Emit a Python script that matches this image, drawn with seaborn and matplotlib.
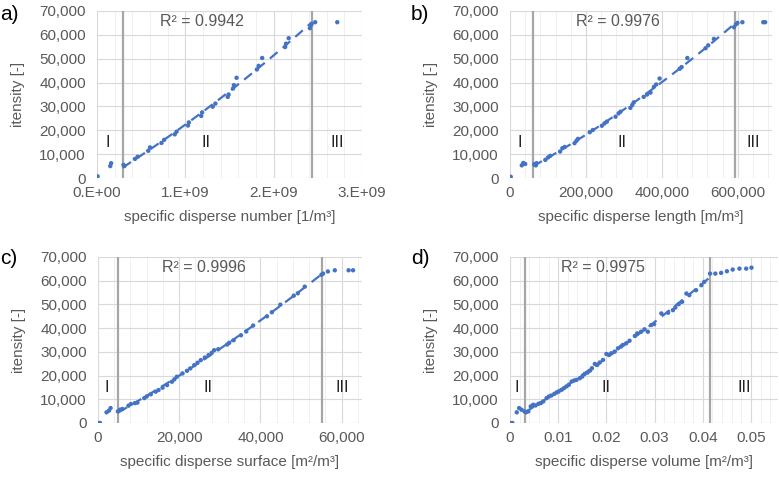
import numpy as np
import pandas as pd
import matplotlib
matplotlib.use("Agg")
import matplotlib.pyplot as plt
from matplotlib.ticker import AutoMinorLocator
import seaborn as sns

sns.set_theme(style="white")
plt.rcParams['font.family'] = ['Liberation Sans', 'DejaVu Sans']

# ---------------- data ----------------
# a) specific disperse number [1e9 1/m3] vs intensity [1e3]
a_x = [0.007, 0.15, 0.16, 0.30, 0.31, 0.43, 0.46, 0.58, 0.60, 0.73, 0.76, 0.88, 0.90,
       1.03, 1.04, 1.18, 1.19, 1.31, 1.34, 1.48, 1.49, 1.54, 1.55, 1.58, 1.81, 1.83,
       1.87, 2.13, 2.14, 2.17, 2.41, 2.42, 2.43, 2.47, 2.72]
a_y = [0.7, 5.0, 6.2, 5.5, 5.0, 8.0, 8.9, 11.4, 12.8, 14.7, 16.0, 18.3, 19.4,
       22.0, 23.3, 26.0, 27.5, 29.9, 31.2, 34.0, 35.0, 37.5, 38.9, 42.0, 45.5, 47.0,
       50.3, 54.9, 56.3, 58.6, 62.8, 64.0, 64.6, 65.3, 65.3]

# b) specific disperse length [1e3 m/m3]
b_x = [2, 31, 35, 40, 64, 68, 70, 93, 100, 106, 132, 138, 144, 170, 175, 179, 210, 218,
       242, 249, 255, 278, 286, 291, 317, 322, 326, 352, 361, 370, 379, 385, 394,
       447, 452, 467, 515, 522, 537, 590, 595, 599, 612, 667, 672]
b_y = [0.5, 5.3, 6.3, 5.9, 5.8, 5.3, 6.2, 7.6, 8.6, 9.3, 11.1, 12.5, 13.0, 14.6, 15.6, 16.4,
       19.2, 20.1, 21.9, 22.9, 23.6, 25.7, 27.1, 27.8, 29.4, 30.6, 31.7, 34.0, 35.0, 35.8,
       38.2, 39.2, 41.7, 45.8, 46.5, 50.3, 54.4, 55.6, 58.3, 63.2, 64.4, 65.0, 65.3, 65.3, 65.3]

# c) specific disperse surface [1e3 m2/m3]
c_x = [0.0, 0.5, 2.1, 2.7, 3.1, 4.9, 5.4, 6.0, 7.5, 8.1, 9.1, 9.7, 11.4, 12.0, 13.0,
       14.2, 14.9, 15.9, 17.0, 18.2, 18.8, 19.4, 20.8, 21.9, 22.7, 23.7, 24.5, 25.3,
       26.3, 27.2, 28.0, 28.6, 29.6, 31.8, 32.3, 33.4, 35.2, 36.5, 38.2, 41.6, 42.8,
       44.9, 48.2, 49.2, 50.9, 55.0, 55.4, 56.6, 58.3, 61.7, 62.8]
c_y = [0.0, 0.0, 4.5, 5.2, 6.3, 4.9, 5.6, 5.9, 7.3, 8.0, 8.4, 8.6, 10.5, 11.2, 12.1,
       13.2, 13.9, 14.9, 16.0, 17.4, 18.4, 19.5, 20.9, 22.0, 23.0, 24.4, 25.4, 26.5,
       27.6, 28.6, 29.6, 30.7, 31.1, 33.1, 33.8, 34.9, 37.0, 38.6, 41.1, 45.0, 46.7,
       49.9, 53.7, 54.7, 57.5, 62.5, 63.0, 63.9, 64.4, 64.4, 64.4]

# d) specific disperse volume [m2/m3]
d_x = [0.0, 0.0005, 0.0014, 0.0019, 0.0024, 0.0030, 0.0033, 0.0038, 0.0043, 0.0048,
       0.0053, 0.0059, 0.0064, 0.0069, 0.0076, 0.0081, 0.0086, 0.0092, 0.0097, 0.0101,
       0.0107, 0.0112, 0.0117, 0.0122, 0.0128, 0.0133, 0.0138, 0.0145, 0.0150, 0.0155,
       0.0161, 0.0166, 0.0170, 0.0176, 0.0181, 0.0186, 0.0193, 0.0200, 0.0205, 0.0210,
       0.0217, 0.0224, 0.0230, 0.0234, 0.0241, 0.0248, 0.0259, 0.0264, 0.0272, 0.0279,
       0.0286, 0.0293, 0.0299, 0.0314, 0.0328, 0.0338, 0.0343, 0.0350, 0.0357, 0.0366,
       0.0372, 0.0386, 0.0397, 0.0403, 0.0415, 0.0426, 0.0438, 0.0450, 0.0462, 0.0476,
       0.0490, 0.0501]
d_y = [0.0, 0.0, 4.5, 6.3, 5.6, 4.9, 4.5, 4.9, 7.0, 7.7, 7.4, 8.1, 8.4, 9.1, 10.5, 11.2,
       11.6, 12.3, 12.9, 13.3, 14.0, 14.7, 15.4, 16.1, 17.5, 17.9, 18.2, 18.9, 19.6, 20.7,
       21.3, 22.1, 23.1, 24.9, 24.5, 25.5, 26.6, 29.1, 28.7, 29.4, 30.1, 31.5, 32.2, 32.9,
       33.6, 34.7, 36.7, 37.8, 38.5, 39.5, 38.5, 41.3, 41.7, 46.2, 46.5, 47.6, 48.7, 50.1,
       51.1, 54.6, 53.9, 56.0, 58.1, 59.5, 63.0, 63.0, 63.3, 64.0, 64.7, 65.1, 65.1, 65.5]

panel_letters = ["a)", "b)", "c)", "d)"]
x_labels = ["specific disperse number [1/m³]", "specific disperse length [m/m³]",
            "specific disperse surface [m²/m³]", "specific disperse volume [m²/m³]"]
y_label = "itensity [-]"
r2_texts = ["R² = 0.9942", "R² = 0.9976", "R² = 0.9996", "R² = 0.9975"]
zone_labels = ["I", "II", "III"]

a_ticks = [0, 1e9, 2e9, 3e9]
a_ticklabels = ["0.E+00", "1.E+09", "2.E+09", "3.E+09"]
b_ticks = [0, 200000, 400000, 600000]
b_ticklabels = ["0", "200,000", "400,000", "600,000"]
c_ticks = [0, 20000, 40000, 60000]
c_ticklabels = ["0", "20,000", "40,000", "60,000"]
d_ticks = [0, 0.01, 0.02, 0.03, 0.04, 0.05]
d_ticklabels = ["0", "0.01", "0.02", "0.03", "0.04", "0.05"]
y_ticks = [0, 10000, 20000, 30000, 40000, 50000, 60000, 70000]
y_ticklabels = ["0", "10,000", "20,000", "30,000", "40,000", "50,000", "60,000", "70,000"]

a_bounds = [0.29e9, 2.43e9]
b_bounds = [61000, 593000]
c_bounds = [5000, 55200]
d_bounds = [0.0032, 0.0414]

x_limits = [(0, 3.0e9), (0, 690000), (0, 65000), (0, 0.0556)]
# ---------------------------------------

xs = [np.array(a_x) * 1e9, np.array(b_x) * 1e3, np.array(c_x) * 1e3, np.array(d_x)]
ys = [np.array(a_y) * 1e3, np.array(b_y) * 1e3, np.array(c_y) * 1e3, np.array(d_y) * 1e3]
bounds = [a_bounds, b_bounds, c_bounds, d_bounds]
ticks = [a_ticks, b_ticks, c_ticks, d_ticks]
ticklabels = [a_ticklabels, b_ticklabels, c_ticklabels, d_ticklabels]

W, H = 779, 480
fig = plt.figure(figsize=(W / 100, H / 100), dpi=100)
# axes rectangles in pixels: left, right, top, bottom
rects = [(97, 362, 11, 178), (510, 772, 11, 178), (98, 362, 257, 423), (510, 778, 257, 423)]
letter_pos = [(0, 15), (411, 15), (0, 259), (411, 259)]

blue = "#4472C4"
grey_text = "#595959"

for i in range(4):
    l, r, t, b = rects[i]
    ax = fig.add_axes([l / W, 1 - b / H, (r - l) / W, (b - t) / H])
    x, y = xs[i], ys[i]
    lo, hi = bounds[i]
    df = pd.DataFrame({"x": x, "y": y})
    # trend line over region II
    mask = (x >= lo * 0.98) & (x <= hi * 1.005)
    coef = np.polyfit(x[mask], y[mask], 2)
    xf = np.linspace(lo, hi, 100)
    tf = pd.DataFrame({"x": xf, "y": np.polyval(coef, xf)})
    sns.lineplot(data=tf, x="x", y="y", ax=ax, color=blue, lw=1.6,
                 linestyle=(0, (4.5, 3)), zorder=3)
    sns.scatterplot(data=df, x="x", y="y", ax=ax, color=blue, s=10,
                    edgecolor="none", zorder=4)
    for bx in bounds[i]:
        ax.axvline(bx, color="#a6a6a6", lw=1.6, zorder=2)

    ax.set_xlim(*x_limits[i])
    ax.set_ylim(0, 70000)
    ax.set_xticks(ticks[i])
    ax.set_xticklabels(ticklabels[i])
    ax.set_yticks(y_ticks)
    ax.set_yticklabels(y_ticklabels)
    ax.xaxis.set_minor_locator(AutoMinorLocator(5))
    ax.grid(True, which="major", color="#d9d9d9", lw=0.8, zorder=0)
    ax.grid(True, which="minor", axis="x", color="#eeeeee", lw=0.6, zorder=0)
    ax.set_axisbelow(True)
    for s in ax.spines.values():
        s.set_visible(False)
    ax.tick_params(axis="both", which="both", length=0, labelsize=11,
                   labelcolor=grey_text)
    ax.tick_params(axis="y", pad=8)
    ax.tick_params(axis="x", pad=6)
    ax.set_xlabel(x_labels[i], fontsize=11, color=grey_text, labelpad=7)
    ax.set_ylabel(y_label, fontsize=11, color=grey_text, labelpad=10)

    xmin, xmax = x_limits[i]
    ax.text(lo + (hi - lo) * 0.42, 65500, r2_texts[i], ha="center", va="center",
            fontsize=11.5, color=grey_text)
    ax.text(lo * 0.42, 15000, zone_labels[0], ha="center", va="center", fontsize=11.5,
            color="#222222")
    ax.text(lo + (hi - lo) * 0.44, 15000, zone_labels[1], ha="center", va="center",
            fontsize=11.5, color="#222222")
    ax.text((hi + xmax) / 2, 15000, zone_labels[2], ha="center", va="center",
            fontsize=11.5, color="#222222")

    lx, ly = letter_pos[i]
    fig.text(lx / W, 1 - ly / H, panel_letters[i], ha="left", va="center",
             fontsize=15, color="black")

fig.savefig("out.png", dpi=100, facecolor="white")
